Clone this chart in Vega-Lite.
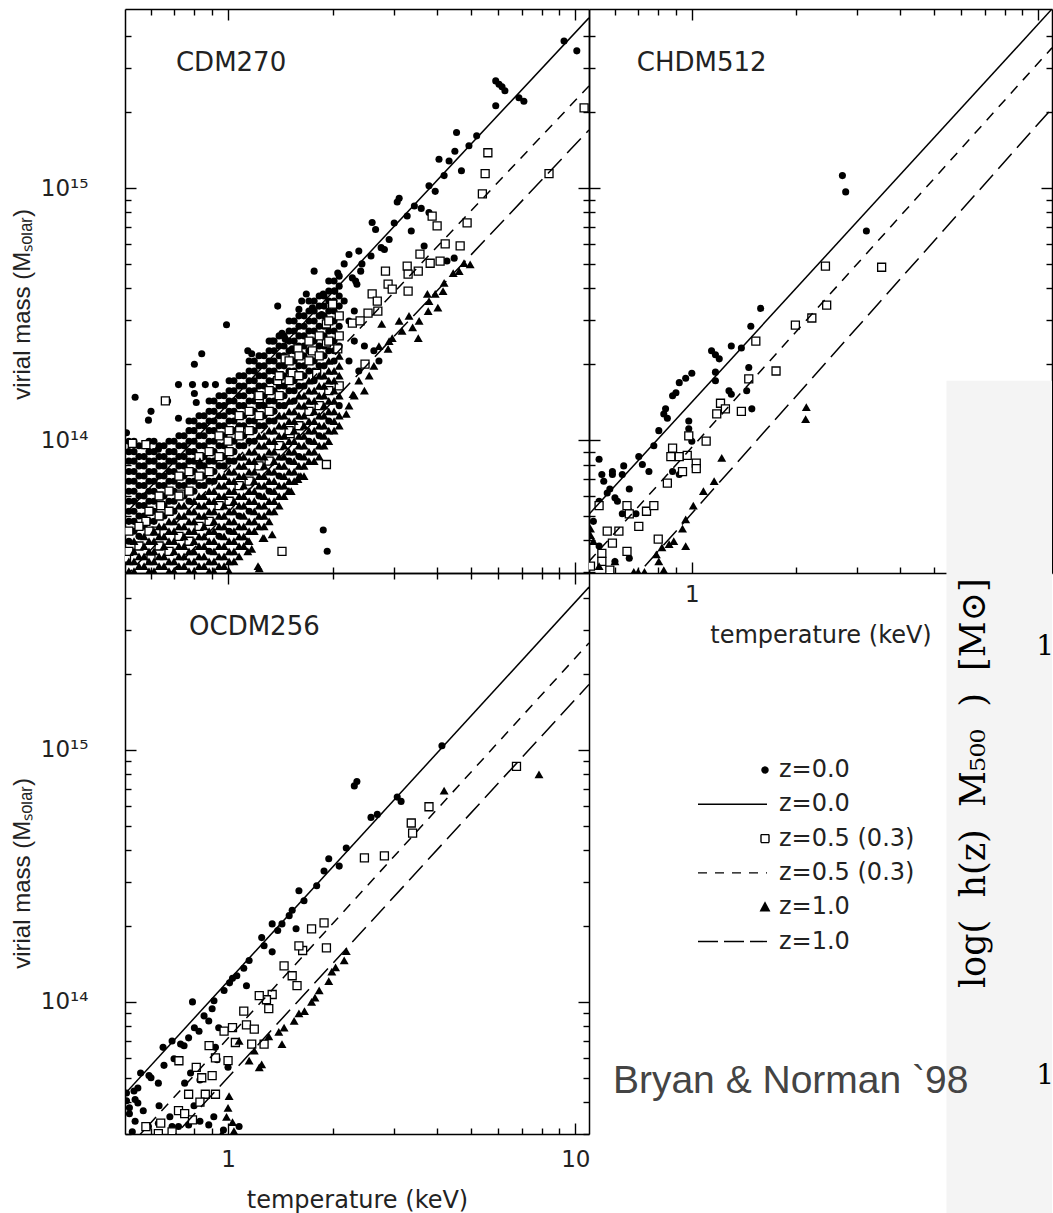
{
"$schema": "https://vega.github.io/schema/vega-lite/v6.json",
"padding": {"left": 10, "top": 8, "right": 0, "bottom": 0},
"autosize": {"type": "pad", "resize": false},
"background": "white",
"config": {
  "font": "DejaVu Sans",
  "view": {"stroke": null},
  "axis": {"domainColor": "black", "domainWidth": 1.5, "tickColor": "black", "tickWidth": 1.4, "labelFontSize": 23, "labelColor": "#222", "labelFont": "DejaVu Sans", "titleFont": "DejaVu Sans", "titleFontSize": 24, "titleColor": "#222", "titleFontWeight": "normal", "grid": false, "labelOverlap": false, "labelFlush": false}
},
"columns": 2,
"spacing": 0,
"bounds": "flush",
"datasets": {
"c0": [{"t":9.28,"m":3.83e15},{"t":10.1,"m":3.5e15},{"t":5.9,"m":2.66e15},{"t":6.03,"m":2.58e15},{"t":6.15,"m":2.52e15},{"t":6.27,"m":2.43e15},{"t":5.9,"m":2.12e15},{"t":6.88,"m":2.28e15},{"t":7.11,"m":2.21e15},{"t":4.55,"m":1.66e15},{"t":5.2,"m":1.61e15},{"t":4.94,"m":1.47e15},{"t":4.05,"m":1.3e15},{"t":4.33,"m":1.28e15},{"t":4.7,"m":1.17e15},{"t":4.5,"m":1.4e15},{"t":3.79,"m":1.02e15},{"t":3.95,"m":9.7e14},{"t":3.11,"m":9.1e14},{"t":3.07,"m":8.8e14},{"t":3.6,"m":8.3e14},{"t":3.79,"m":8.0e14},{"t":3.28,"m":7.74e14},{"t":2.6,"m":7.3e14},{"t":2.66,"m":6.85e14},{"t":2.91,"m":6.25e14},{"t":2.76,"m":5.8e14},{"t":3.37,"m":6.75e14},{"t":2.38,"m":5.62e14},{"t":2.23,"m":5.45e14},{"t":2.43,"m":5.0e14},{"t":2.41,"m":4.68e14},{"t":2.28,"m":4.4e14},{"t":2.35,"m":4.15e14},{"t":2.16,"m":5.0e14},{"t":2.07,"m":4.6e14},{"t":2.33,"m":4.28e14},{"t":2.03,"m":3.9e14},{"t":1.88,"m":3.8e14},{"t":1.77,"m":4.68e14},{"t":1.68,"m":3.8e14},{"t":1.63,"m":3.56e14},{"t":1.75,"m":3.35e14},{"t":1.86,"m":3.15e14},{"t":1.6,"m":3.3e14},{"t":1.39,"m":3.4e14},{"t":0.99,"m":2.87e14},{"t":1.34,"m":2.47e14},{"t":1.46,"m":2.52e14},{"t":1.43,"m":2.65e14},{"t":1.53,"m":2.3e14},{"t":1.14,"m":2.26e14},{"t":1.17,"m":2.2e14},{"t":0.84,"m":2.2e14},{"t":0.8,"m":2.0e14},{"t":0.72,"m":1.66e14},{"t":0.79,"m":1.66e14},{"t":0.86,"m":1.66e14},{"t":0.92,"m":1.66e14},{"t":0.8,"m":1.53e14},{"t":0.81,"m":1.41e14},{"t":0.54,"m":1.48e14},{"t":0.67,"m":1.43e14},{"t":0.6,"m":1.3e14},{"t":0.72,"m":1.22e14},{"t":0.59,"m":1.2e14},{"t":0.51,"m":1.07e14},{"t":0.63,"m":9.2e13},{"t":1.88,"m":4.4e13},{"t":1.93,"m":3.62e13},{"t":2.31,"m":2.47e14},{"t":2.47,"m":2.36e14},{"t":2.63,"m":2.26e14},{"t":2.72,"m":2.06e14},{"t":2.23,"m":2.06e14},{"t":2.38,"m":1.88e14},{"t":2.82,"m":5.7e14},{"t":2.58,"m":5.37e14},{"t":3.44,"m":8.48e14},{"t":4.19,"m":1.12e15},{"t":3.01,"m":7.27e14},{"t":4.48,"m":5.27e14},{"t":4.27,"m":5.13e14},{"t":3.67,"m":5.89e14},{"t":2.16,"m":3.56e14},{"t":2.31,"m":3.25e14},{"t":2.23,"m":2.97e14},
{"t":0.518,"m":9.9e13},{"t":0.518,"m":9.0e13},{"t":0.518,"m":8.25e13},{"t":0.518,"m":7.5e13},{"t":0.518,"m":6.87e13},{"t":0.518,"m":6.27e13},{"t":0.518,"m":5.72e13},{"t":0.518,"m":5.22e13},{"t":0.518,"m":4.76e13},{"t":0.518,"m":3.97e13},
{"t":0.554,"m":9.5e13},{"t":0.554,"m":8.6e13},{"t":0.554,"m":7.9e13},{"t":0.554,"m":7.2e13},{"t":0.554,"m":6.6e13},{"t":0.554,"m":6.0e13},{"t":0.554,"m":5.5e13},{"t":0.554,"m":5.0e13},{"t":0.554,"m":4.15e13},
{"t":0.592,"m":9.9e13},{"t":0.592,"m":9.0e13},{"t":0.592,"m":8.25e13},{"t":0.592,"m":7.5e13},{"t":0.592,"m":6.87e13},{"t":0.592,"m":6.27e13},{"t":0.592,"m":5.72e13},{"t":0.592,"m":4.76e13},
{"t":0.633,"m":9.5e13},{"t":0.633,"m":8.6e13},{"t":0.633,"m":7.9e13},{"t":0.633,"m":7.2e13},{"t":0.633,"m":6.6e13},{"t":0.633,"m":5.5e13},
{"t":0.676,"m":9.9e13},{"t":0.676,"m":9.0e13},{"t":0.676,"m":8.25e13},{"t":0.676,"m":7.5e13},{"t":0.676,"m":6.87e13},{"t":0.676,"m":5.72e13},
{"t":0.722,"m":1.04e14},{"t":0.722,"m":9.5e13},{"t":0.722,"m":8.6e13},{"t":0.722,"m":7.9e13},{"t":0.722,"m":6.6e13},
{"t":0.772,"m":1.19e14},{"t":0.772,"m":1.09e14},{"t":0.772,"m":9.9e13},{"t":0.772,"m":9.0e13},{"t":0.772,"m":8.25e13},{"t":0.772,"m":6.87e13},{"t":0.772,"m":5.72e13},
{"t":0.825,"m":1.25e14},{"t":0.825,"m":1.14e14},{"t":0.825,"m":1.04e14},{"t":0.825,"m":9.5e13},{"t":0.825,"m":7.9e13},{"t":0.825,"m":6.6e13},
{"t":0.882,"m":1.43e14},{"t":0.882,"m":1.3e14},{"t":0.882,"m":1.19e14},{"t":0.882,"m":1.09e14},{"t":0.882,"m":9.9e13},{"t":0.882,"m":8.25e13},{"t":0.882,"m":6.87e13},{"t":0.882,"m":3.62e13},
{"t":0.942,"m":1.5e14},{"t":0.942,"m":1.37e14},{"t":0.942,"m":1.25e14},{"t":0.942,"m":1.14e14},{"t":0.942,"m":9.5e13},{"t":0.942,"m":7.9e13},{"t":0.942,"m":4.15e13},
{"t":1.007,"m":1.72e14},{"t":1.007,"m":1.57e14},{"t":1.007,"m":1.43e14},{"t":1.007,"m":1.3e14},{"t":1.007,"m":1.19e14},{"t":1.007,"m":9.9e13},{"t":1.007,"m":8.25e13},{"t":1.007,"m":4.35e13},
{"t":1.076,"m":1.8e14},{"t":1.076,"m":1.64e14},{"t":1.076,"m":1.5e14},{"t":1.076,"m":1.37e14},{"t":1.076,"m":1.14e14},{"t":1.076,"m":9.5e13},{"t":1.076,"m":5.0e13},
{"t":1.15,"m":2.06e14},{"t":1.15,"m":1.88e14},{"t":1.15,"m":1.72e14},{"t":1.15,"m":1.57e14},{"t":1.15,"m":1.43e14},{"t":1.15,"m":1.19e14},{"t":1.15,"m":9.9e13},{"t":1.15,"m":5.22e13},
{"t":1.228,"m":2.16e14},{"t":1.228,"m":1.97e14},{"t":1.228,"m":1.8e14},{"t":1.228,"m":1.64e14},{"t":1.228,"m":1.37e14},{"t":1.228,"m":1.14e14},{"t":1.228,"m":6.0e13},
{"t":1.313,"m":2.47e14},{"t":1.313,"m":2.26e14},{"t":1.313,"m":2.06e14},{"t":1.313,"m":1.88e14},{"t":1.313,"m":1.72e14},{"t":1.313,"m":1.43e14},{"t":1.313,"m":1.19e14},{"t":1.313,"m":6.27e13},
{"t":1.403,"m":2.59e14},{"t":1.403,"m":2.36e14},{"t":1.403,"m":2.16e14},{"t":1.403,"m":1.97e14},{"t":1.403,"m":1.64e14},{"t":1.403,"m":1.37e14},{"t":1.403,"m":7.2e13},
{"t":1.499,"m":2.97e14},{"t":1.499,"m":2.71e14},{"t":1.499,"m":2.47e14},{"t":1.499,"m":2.26e14},{"t":1.499,"m":1.88e14},{"t":1.499,"m":1.57e14},{"t":1.499,"m":8.25e13},
{"t":1.6,"m":3.11e14},{"t":1.6,"m":2.83e14},{"t":1.6,"m":2.59e14},{"t":1.6,"m":2.36e14},{"t":1.6,"m":1.97e14},{"t":1.6,"m":1.64e14},{"t":1.6,"m":8.6e13},
{"t":1.71,"m":3.56e14},{"t":1.71,"m":3.25e14},{"t":1.71,"m":2.97e14},{"t":1.71,"m":2.71e14},{"t":1.71,"m":2.26e14},{"t":1.71,"m":1.88e14},{"t":1.71,"m":9.9e13},
{"t":1.83,"m":3.73e14},{"t":1.83,"m":3.4e14},{"t":1.83,"m":3.11e14},{"t":1.83,"m":2.83e14},{"t":1.83,"m":2.36e14},{"t":1.83,"m":1.97e14},{"t":1.83,"m":1.04e14},
{"t":1.95,"m":4.28e14},{"t":1.95,"m":3.9e14},{"t":1.95,"m":3.56e14},{"t":1.95,"m":3.25e14},{"t":1.95,"m":2.71e14},{"t":1.95,"m":2.26e14},{"t":1.95,"m":1.19e14},
{"t":2.09,"m":4.47e14},{"t":2.09,"m":4.08e14},{"t":2.09,"m":3.73e14},{"t":2.09,"m":3.4e14},{"t":2.09,"m":2.83e14},{"t":2.09,"m":2.36e14},{"t":2.09,"m":1.37e14},
{"t":0.536,"m":9.9e13},{"t":0.536,"m":9.0e13},{"t":0.536,"m":8.25e13},{"t":0.536,"m":7.5e13},{"t":0.536,"m":6.87e13},{"t":0.536,"m":6.27e13},{"t":0.536,"m":5.72e13},{"t":0.536,"m":5.22e13},{"t":0.536,"m":4.76e13},{"t":0.536,"m":4.35e13},
{"t":0.573,"m":9.5e13},{"t":0.573,"m":8.6e13},{"t":0.573,"m":7.9e13},{"t":0.573,"m":7.2e13},{"t":0.573,"m":6.6e13},{"t":0.573,"m":6.0e13},{"t":0.573,"m":5.5e13},{"t":0.573,"m":5.0e13},{"t":0.573,"m":4.55e13},
{"t":0.612,"m":9.9e13},{"t":0.612,"m":9.0e13},{"t":0.612,"m":8.25e13},{"t":0.612,"m":7.5e13},{"t":0.612,"m":6.87e13},{"t":0.612,"m":6.27e13},{"t":0.612,"m":5.72e13},{"t":0.612,"m":5.22e13},{"t":0.612,"m":4.76e13},
{"t":0.654,"m":9.5e13},{"t":0.654,"m":8.6e13},{"t":0.654,"m":7.9e13},{"t":0.654,"m":7.2e13},{"t":0.654,"m":6.6e13},{"t":0.654,"m":6.0e13},{"t":0.654,"m":5.5e13},{"t":0.654,"m":5.0e13},
{"t":0.699,"m":9.9e13},{"t":0.699,"m":9.0e13},{"t":0.699,"m":8.25e13},{"t":0.699,"m":7.5e13},{"t":0.699,"m":6.87e13},{"t":0.699,"m":6.27e13},{"t":0.699,"m":5.72e13},{"t":0.699,"m":5.22e13},
{"t":0.747,"m":1.04e14},{"t":0.747,"m":9.5e13},{"t":0.747,"m":8.6e13},{"t":0.747,"m":7.9e13},{"t":0.747,"m":7.2e13},{"t":0.747,"m":6.6e13},{"t":0.747,"m":6.0e13},
{"t":0.798,"m":1.19e14},{"t":0.798,"m":1.09e14},{"t":0.798,"m":9.9e13},{"t":0.798,"m":9.0e13},{"t":0.798,"m":8.25e13},{"t":0.798,"m":7.5e13},{"t":0.798,"m":6.87e13},{"t":0.798,"m":6.27e13},
{"t":0.853,"m":1.25e14},{"t":0.853,"m":1.14e14},{"t":0.853,"m":1.04e14},{"t":0.853,"m":9.5e13},{"t":0.853,"m":8.6e13},{"t":0.853,"m":7.9e13},{"t":0.853,"m":7.2e13},{"t":0.853,"m":6.6e13},
{"t":0.911,"m":1.43e14},{"t":0.911,"m":1.3e14},{"t":0.911,"m":1.19e14},{"t":0.911,"m":1.09e14},{"t":0.911,"m":9.9e13},{"t":0.911,"m":9.0e13},{"t":0.911,"m":8.25e13},{"t":0.911,"m":7.5e13},{"t":0.911,"m":6.87e13},
{"t":0.974,"m":1.5e14},{"t":0.974,"m":1.37e14},{"t":0.974,"m":1.25e14},{"t":0.974,"m":1.14e14},{"t":0.974,"m":1.04e14},{"t":0.974,"m":9.5e13},{"t":0.974,"m":8.6e13},{"t":0.974,"m":7.9e13},
{"t":1.04,"m":1.72e14},{"t":1.04,"m":1.57e14},{"t":1.04,"m":1.43e14},{"t":1.04,"m":1.3e14},{"t":1.04,"m":1.19e14},{"t":1.04,"m":1.09e14},{"t":1.04,"m":9.9e13},{"t":1.04,"m":9.0e13},{"t":1.04,"m":8.25e13},
{"t":1.11,"m":1.8e14},{"t":1.11,"m":1.64e14},{"t":1.11,"m":1.5e14},{"t":1.11,"m":1.37e14},{"t":1.11,"m":1.25e14},{"t":1.11,"m":1.14e14},{"t":1.11,"m":1.04e14},{"t":1.11,"m":9.5e13},
{"t":1.19,"m":2.06e14},{"t":1.19,"m":1.88e14},{"t":1.19,"m":1.72e14},{"t":1.19,"m":1.57e14},{"t":1.19,"m":1.43e14},{"t":1.19,"m":1.3e14},{"t":1.19,"m":1.19e14},{"t":1.19,"m":1.09e14},{"t":1.19,"m":9.9e13},
{"t":1.27,"m":2.16e14},{"t":1.27,"m":1.97e14},{"t":1.27,"m":1.8e14},{"t":1.27,"m":1.64e14},{"t":1.27,"m":1.5e14},{"t":1.27,"m":1.37e14},{"t":1.27,"m":1.25e14},{"t":1.27,"m":1.14e14},
{"t":1.357,"m":2.47e14},{"t":1.357,"m":2.26e14},{"t":1.357,"m":2.06e14},{"t":1.357,"m":1.88e14},{"t":1.357,"m":1.72e14},{"t":1.357,"m":1.57e14},{"t":1.357,"m":1.43e14},{"t":1.357,"m":1.3e14},{"t":1.357,"m":1.19e14},
{"t":1.45,"m":2.59e14},{"t":1.45,"m":2.36e14},{"t":1.45,"m":2.16e14},{"t":1.45,"m":1.97e14},{"t":1.45,"m":1.8e14},{"t":1.45,"m":1.64e14},{"t":1.45,"m":1.5e14},{"t":1.45,"m":1.37e14},
{"t":1.55,"m":2.97e14},{"t":1.55,"m":2.71e14},{"t":1.55,"m":2.47e14},{"t":1.55,"m":2.26e14},{"t":1.55,"m":2.06e14},{"t":1.55,"m":1.88e14},{"t":1.55,"m":1.72e14},{"t":1.55,"m":1.57e14},{"t":1.55,"m":1.43e14},
{"t":1.655,"m":3.11e14},{"t":1.655,"m":2.83e14},{"t":1.655,"m":2.59e14},{"t":1.655,"m":2.36e14},{"t":1.655,"m":2.16e14},{"t":1.655,"m":1.97e14},{"t":1.655,"m":1.8e14},{"t":1.655,"m":1.64e14},
{"t":1.77,"m":3.56e14},{"t":1.77,"m":3.25e14},{"t":1.77,"m":2.97e14},{"t":1.77,"m":2.71e14},{"t":1.77,"m":2.47e14},{"t":1.77,"m":2.26e14},{"t":1.77,"m":2.06e14},{"t":1.77,"m":1.88e14},{"t":1.77,"m":1.72e14},
{"t":1.89,"m":3.73e14},{"t":1.89,"m":3.4e14},{"t":1.89,"m":3.11e14},{"t":1.89,"m":2.83e14},{"t":1.89,"m":2.59e14},{"t":1.89,"m":2.36e14},{"t":1.89,"m":2.16e14},{"t":1.89,"m":1.97e14},
{"t":2.02,"m":4.28e14},{"t":2.02,"m":3.9e14},{"t":2.02,"m":3.56e14},{"t":2.02,"m":3.25e14},{"t":2.02,"m":2.97e14},{"t":2.02,"m":2.71e14},{"t":2.02,"m":2.47e14},{"t":2.02,"m":2.26e14},{"t":2.02,"m":2.06e14}],
"c5": [{"t":5.6,"m":1.38e15},{"t":5.5,"m":1.14e15},{"t":5.4,"m":9.47e14},{"t":4.88,"m":7.27e14},{"t":3.87,"m":7.74e14},{"t":4.0,"m":7.07e14},{"t":4.22,"m":6.0e14},{"t":3.82,"m":5.03e14},{"t":4.08,"m":5.13e14},{"t":4.66,"m":5.89e14},{"t":3.57,"m":5.47e14},{"t":3.53,"m":4.68e14},{"t":3.28,"m":4.9e14},{"t":3.3,"m":4.55e14},{"t":3.3,"m":3.9e14},{"t":2.84,"m":4.68e14},{"t":2.89,"m":4.16e14},{"t":2.97,"m":3.97e14},{"t":2.6,"m":3.8e14},{"t":2.69,"m":3.56e14},{"t":2.7,"m":3.25e14},{"t":2.53,"m":3.19e14},{"t":2.28,"m":2.91e14},{"t":2.4,"m":2.97e14},{"t":2.0,"m":3.46e14},{"t":1.92,"m":2.89e14},{"t":1.92,"m":2.43e14},{"t":1.75,"m":2.26e14},{"t":1.59,"m":2.3e14},{"t":2.07,"m":2.3e14},{"t":2.48,"m":2.0e14},{"t":1.46,"m":2.1e14},{"t":1.53,"m":1.84e14},{"t":1.39,"m":1.72e14},{"t":1.8,"m":1.84e14},{"t":1.22,"m":1.5e14},{"t":1.08,"m":1.09e14},{"t":1.0,"m":9.9e13},{"t":1.51,"m":1.06e14},{"t":1.92,"m":8.0e13},{"t":1.43,"m":3.62e13},{"t":0.53,"m":9.7e13},{"t":0.58,"m":9.6e13},{"t":0.66,"m":1.43e14},{"t":1.23,"m":1.46e14},{"t":0.64,"m":5.5e13},{"t":0.73,"m":6.1e13},{"t":0.58,"m":4.76e13},{"t":0.62,"m":4.35e13},{"t":0.51,"m":3.4e13},{"t":0.6,"m":3.38e13},{"t":10.6,"m":2.08e15},{"t":8.4,"m":1.14e15},
{"t":0.518,"m":4.35e13},{"t":0.518,"m":3.62e13},{"t":0.554,"m":4.55e13},{"t":0.554,"m":3.8e13},{"t":0.592,"m":5.22e13},{"t":0.592,"m":4.35e13},{"t":0.633,"m":6.0e13},{"t":0.633,"m":5.0e13},{"t":0.633,"m":3.8e13},{"t":0.676,"m":6.27e13},{"t":0.676,"m":5.22e13},{"t":0.676,"m":3.62e13},{"t":0.722,"m":7.2e13},{"t":0.722,"m":6.0e13},{"t":0.722,"m":4.15e13},{"t":0.772,"m":7.5e13},{"t":0.772,"m":6.27e13},{"t":0.772,"m":3.97e13},{"t":0.825,"m":8.6e13},{"t":0.825,"m":7.2e13},{"t":0.825,"m":4.55e13},{"t":0.882,"m":9.0e13},{"t":0.882,"m":7.5e13},{"t":0.882,"m":4.76e13},{"t":0.942,"m":1.04e14},{"t":0.942,"m":8.6e13},{"t":0.942,"m":5.5e13},{"t":1.007,"m":1.09e14},{"t":1.007,"m":9.0e13},{"t":1.007,"m":5.72e13},{"t":1.076,"m":1.25e14},{"t":1.076,"m":1.04e14},{"t":1.076,"m":6.6e13},{"t":1.15,"m":1.3e14},{"t":1.15,"m":1.09e14},{"t":1.15,"m":6.87e13},{"t":1.228,"m":1.5e14},{"t":1.228,"m":1.25e14},{"t":1.228,"m":7.9e13},{"t":1.313,"m":1.57e14},{"t":1.313,"m":1.3e14},{"t":1.313,"m":8.25e13},{"t":1.403,"m":1.8e14},{"t":1.403,"m":1.5e14},{"t":1.403,"m":9.5e13},{"t":1.499,"m":2.06e14},{"t":1.499,"m":1.72e14},{"t":1.499,"m":1.09e14},{"t":1.6,"m":2.16e14},{"t":1.6,"m":1.8e14},{"t":1.6,"m":1.14e14},{"t":1.71,"m":2.47e14},{"t":1.71,"m":2.06e14},{"t":1.71,"m":1.3e14},{"t":1.83,"m":2.59e14},{"t":1.83,"m":2.16e14},{"t":1.83,"m":1.37e14},{"t":1.95,"m":2.97e14},{"t":1.95,"m":2.47e14},{"t":1.95,"m":1.57e14},{"t":2.09,"m":3.11e14},{"t":2.09,"m":2.59e14},{"t":2.09,"m":1.64e14}],
"c1": [{"t":4.98,"m":4.98e14},{"t":4.45,"m":4.6e14},{"t":4.16,"m":3.9e14},{"t":3.95,"m":3.8e14},{"t":3.75,"m":3.8e14},{"t":3.77,"m":3.25e14},{"t":4.02,"m":3.35e14},{"t":3.53,"m":2.54e14},{"t":3.4,"m":2.8e14},{"t":3.17,"m":2.71e14},{"t":2.97,"m":2.54e14},{"t":2.77,"m":2.89e14},{"t":2.89,"m":2.3e14},{"t":2.29,"m":1.52e14},{"t":2.19,"m":1.27e14},{"t":1.59,"m":7.0e13},{"t":1.49,"m":6.27e13},{"t":1.34,"m":4.23e13},{"t":1.26,"m":4.08e13},{"t":1.14,"m":3.97e13},{"t":1.14,"m":3.62e13},{"t":1.22,"m":3.16e13},{"t":0.83,"m":8.25e13},{"t":1.62,"m":7.2e13},{"t":1.52,"m":6.27e13},{"t":1.27,"m":4.08e13},{"t":1.17,"m":3.7e13},{"t":1.23,"m":3.1e13},{"t":2.38,"m":1.72e14},{"t":2.55,"m":1.8e14},{"t":2.31,"m":1.5e14},{"t":2.47,"m":1.57e14},{"t":2.23,"m":1.37e14},{"t":2.72,"m":2.36e14},{"t":3.11,"m":2.97e14},{"t":3.32,"m":3.11e14},{"t":3.55,"m":2.97e14},{"t":3.79,"m":3.56e14},{"t":4.19,"m":4.2e14},{"t":4.63,"m":4.68e14},{"t":4.78,"m":5.03e14},{"t":2.63,"m":1.97e14},{"t":2.91,"m":2.47e14},
{"t":0.518,"m":3.3e13},{"t":0.518,"m":3.02e13},{"t":0.554,"m":3.46e13},{"t":0.554,"m":3.16e13},
{"t":0.592,"m":3.97e13},{"t":0.592,"m":3.62e13},{"t":0.592,"m":3.3e13},{"t":0.592,"m":3.02e13},
{"t":0.633,"m":4.55e13},{"t":0.633,"m":4.15e13},{"t":0.633,"m":3.46e13},{"t":0.633,"m":3.16e13},
{"t":0.676,"m":4.76e13},{"t":0.676,"m":4.35e13},{"t":0.676,"m":3.97e13},{"t":0.676,"m":3.3e13},{"t":0.676,"m":3.02e13},
{"t":0.722,"m":5.5e13},{"t":0.722,"m":5.0e13},{"t":0.722,"m":4.55e13},{"t":0.722,"m":3.8e13},{"t":0.722,"m":3.46e13},{"t":0.722,"m":3.16e13},
{"t":0.772,"m":5.22e13},{"t":0.772,"m":4.76e13},{"t":0.772,"m":4.35e13},{"t":0.772,"m":3.62e13},{"t":0.772,"m":3.3e13},{"t":0.772,"m":3.02e13},
{"t":0.825,"m":6.0e13},{"t":0.825,"m":5.5e13},{"t":0.825,"m":5.0e13},{"t":0.825,"m":4.15e13},{"t":0.825,"m":3.8e13},{"t":0.825,"m":3.46e13},{"t":0.825,"m":3.16e13},
{"t":0.882,"m":6.27e13},{"t":0.882,"m":5.72e13},{"t":0.882,"m":5.22e13},{"t":0.882,"m":4.35e13},{"t":0.882,"m":3.97e13},{"t":0.882,"m":3.3e13},{"t":0.882,"m":3.02e13},
{"t":0.942,"m":7.2e13},{"t":0.942,"m":6.6e13},{"t":0.942,"m":6.0e13},{"t":0.942,"m":5.0e13},{"t":0.942,"m":4.55e13},{"t":0.942,"m":3.8e13},{"t":0.942,"m":3.46e13},{"t":0.942,"m":3.16e13},
{"t":1.007,"m":7.5e13},{"t":1.007,"m":6.87e13},{"t":1.007,"m":6.27e13},{"t":1.007,"m":5.22e13},{"t":1.007,"m":4.76e13},{"t":1.007,"m":3.97e13},{"t":1.007,"m":3.62e13},{"t":1.007,"m":3.3e13},{"t":1.007,"m":3.02e13},
{"t":1.076,"m":8.6e13},{"t":1.076,"m":7.9e13},{"t":1.076,"m":7.2e13},{"t":1.076,"m":6.0e13},{"t":1.076,"m":5.5e13},{"t":1.076,"m":4.55e13},{"t":1.076,"m":4.15e13},{"t":1.076,"m":3.8e13},{"t":1.076,"m":3.46e13},
{"t":1.15,"m":9.0e13},{"t":1.15,"m":8.25e13},{"t":1.15,"m":7.5e13},{"t":1.15,"m":6.27e13},{"t":1.15,"m":5.72e13},{"t":1.15,"m":4.76e13},{"t":1.15,"m":4.35e13},{"t":1.15,"m":3.97e13},
{"t":1.228,"m":1.04e14},{"t":1.228,"m":9.5e13},{"t":1.228,"m":8.6e13},{"t":1.228,"m":7.2e13},{"t":1.228,"m":6.6e13},{"t":1.228,"m":5.5e13},{"t":1.228,"m":5.0e13},{"t":1.228,"m":4.55e13},
{"t":1.313,"m":1.09e14},{"t":1.313,"m":9.9e13},{"t":1.313,"m":9.0e13},{"t":1.313,"m":7.5e13},{"t":1.313,"m":6.87e13},{"t":1.313,"m":5.72e13},{"t":1.313,"m":5.22e13},{"t":1.313,"m":4.76e13},
{"t":1.403,"m":1.25e14},{"t":1.403,"m":1.14e14},{"t":1.403,"m":1.04e14},{"t":1.403,"m":8.6e13},{"t":1.403,"m":7.9e13},{"t":1.403,"m":6.6e13},{"t":1.403,"m":6.0e13},{"t":1.403,"m":5.5e13},
{"t":1.499,"m":1.43e14},{"t":1.499,"m":1.3e14},{"t":1.499,"m":1.19e14},{"t":1.499,"m":9.9e13},{"t":1.499,"m":9.0e13},{"t":1.499,"m":7.5e13},{"t":1.499,"m":6.87e13},{"t":1.499,"m":6.27e13},
{"t":1.6,"m":1.5e14},{"t":1.6,"m":1.37e14},{"t":1.6,"m":1.25e14},{"t":1.6,"m":1.04e14},{"t":1.6,"m":9.5e13},{"t":1.6,"m":7.9e13},{"t":1.6,"m":7.2e13},
{"t":1.71,"m":1.72e14},{"t":1.71,"m":1.57e14},{"t":1.71,"m":1.43e14},{"t":1.71,"m":1.19e14},{"t":1.71,"m":1.09e14},{"t":1.71,"m":9.0e13},{"t":1.71,"m":8.25e13},
{"t":1.83,"m":1.8e14},{"t":1.83,"m":1.64e14},{"t":1.83,"m":1.5e14},{"t":1.83,"m":1.25e14},{"t":1.83,"m":1.14e14},{"t":1.83,"m":9.5e13},{"t":1.83,"m":8.6e13},
{"t":1.95,"m":2.06e14},{"t":1.95,"m":1.88e14},{"t":1.95,"m":1.72e14},{"t":1.95,"m":1.43e14},{"t":1.95,"m":1.3e14},{"t":1.95,"m":1.09e14},{"t":1.95,"m":9.9e13},
{"t":2.09,"m":2.16e14},{"t":2.09,"m":1.97e14},{"t":2.09,"m":1.8e14},{"t":2.09,"m":1.5e14},{"t":2.09,"m":1.25e14},{"t":2.09,"m":1.14e14},
{"t":0.536,"m":3.97e13},{"t":0.536,"m":3.62e13},{"t":0.536,"m":3.3e13},{"t":0.536,"m":3.02e13},
{"t":0.573,"m":4.15e13},{"t":0.573,"m":3.8e13},{"t":0.573,"m":3.46e13},{"t":0.573,"m":3.16e13},
{"t":0.612,"m":4.35e13},{"t":0.612,"m":3.97e13},{"t":0.612,"m":3.62e13},{"t":0.612,"m":3.3e13},{"t":0.612,"m":3.02e13},
{"t":0.654,"m":4.55e13},{"t":0.654,"m":4.15e13},{"t":0.654,"m":3.8e13},{"t":0.654,"m":3.46e13},{"t":0.654,"m":3.16e13},
{"t":0.699,"m":4.76e13},{"t":0.699,"m":4.35e13},{"t":0.699,"m":3.97e13},{"t":0.699,"m":3.62e13},{"t":0.699,"m":3.3e13},{"t":0.699,"m":3.02e13},
{"t":0.747,"m":5.5e13},{"t":0.747,"m":5.0e13},{"t":0.747,"m":4.55e13},{"t":0.747,"m":4.15e13},{"t":0.747,"m":3.8e13},{"t":0.747,"m":3.46e13},{"t":0.747,"m":3.16e13},
{"t":0.798,"m":5.72e13},{"t":0.798,"m":5.22e13},{"t":0.798,"m":4.76e13},{"t":0.798,"m":4.35e13},{"t":0.798,"m":3.97e13},{"t":0.798,"m":3.62e13},{"t":0.798,"m":3.3e13},{"t":0.798,"m":3.02e13},
{"t":0.853,"m":6.0e13},{"t":0.853,"m":5.5e13},{"t":0.853,"m":5.0e13},{"t":0.853,"m":4.55e13},{"t":0.853,"m":4.15e13},{"t":0.853,"m":3.8e13},{"t":0.853,"m":3.46e13},{"t":0.853,"m":3.16e13},
{"t":0.911,"m":6.27e13},{"t":0.911,"m":5.72e13},{"t":0.911,"m":5.22e13},{"t":0.911,"m":4.76e13},{"t":0.911,"m":4.35e13},{"t":0.911,"m":3.97e13},{"t":0.911,"m":3.62e13},{"t":0.911,"m":3.3e13},{"t":0.911,"m":3.02e13},
{"t":0.974,"m":7.2e13},{"t":0.974,"m":6.6e13},{"t":0.974,"m":6.0e13},{"t":0.974,"m":5.5e13},{"t":0.974,"m":5.0e13},{"t":0.974,"m":4.55e13},{"t":0.974,"m":4.15e13},{"t":0.974,"m":3.8e13},{"t":0.974,"m":3.46e13},{"t":0.974,"m":3.16e13},
{"t":1.04,"m":7.5e13},{"t":1.04,"m":6.87e13},{"t":1.04,"m":6.27e13},{"t":1.04,"m":5.72e13},{"t":1.04,"m":5.22e13},{"t":1.04,"m":4.76e13},{"t":1.04,"m":4.35e13},{"t":1.04,"m":3.97e13},{"t":1.04,"m":3.62e13},{"t":1.04,"m":3.3e13},
{"t":1.11,"m":8.6e13},{"t":1.11,"m":7.9e13},{"t":1.11,"m":7.2e13},{"t":1.11,"m":6.6e13},{"t":1.11,"m":6.0e13},{"t":1.11,"m":5.5e13},{"t":1.11,"m":5.0e13},{"t":1.11,"m":4.55e13},{"t":1.11,"m":4.15e13},{"t":1.11,"m":3.8e13},
{"t":1.19,"m":9.0e13},{"t":1.19,"m":8.25e13},{"t":1.19,"m":7.5e13},{"t":1.19,"m":6.87e13},{"t":1.19,"m":6.27e13},{"t":1.19,"m":5.72e13},{"t":1.19,"m":5.22e13},{"t":1.19,"m":4.76e13},{"t":1.19,"m":4.35e13},
{"t":1.27,"m":1.04e14},{"t":1.27,"m":9.5e13},{"t":1.27,"m":8.6e13},{"t":1.27,"m":7.9e13},{"t":1.27,"m":7.2e13},{"t":1.27,"m":6.6e13},{"t":1.27,"m":6.0e13},{"t":1.27,"m":5.5e13},{"t":1.27,"m":5.0e13},{"t":1.27,"m":4.55e13},
{"t":1.357,"m":1.09e14},{"t":1.357,"m":9.9e13},{"t":1.357,"m":9.0e13},{"t":1.357,"m":8.25e13},{"t":1.357,"m":7.5e13},{"t":1.357,"m":6.87e13},{"t":1.357,"m":6.27e13},{"t":1.357,"m":5.72e13},{"t":1.357,"m":5.22e13},
{"t":1.45,"m":1.25e14},{"t":1.45,"m":1.14e14},{"t":1.45,"m":1.04e14},{"t":1.45,"m":9.5e13},{"t":1.45,"m":8.6e13},{"t":1.45,"m":7.9e13},{"t":1.45,"m":7.2e13},{"t":1.45,"m":6.6e13},{"t":1.45,"m":6.0e13},
{"t":1.55,"m":1.3e14},{"t":1.55,"m":1.19e14},{"t":1.55,"m":1.09e14},{"t":1.55,"m":9.9e13},{"t":1.55,"m":9.0e13},{"t":1.55,"m":8.25e13},{"t":1.55,"m":7.5e13},{"t":1.55,"m":6.87e13},
{"t":1.655,"m":1.5e14},{"t":1.655,"m":1.37e14},{"t":1.655,"m":1.25e14},{"t":1.655,"m":1.14e14},{"t":1.655,"m":1.04e14},{"t":1.655,"m":9.5e13},{"t":1.655,"m":8.6e13},{"t":1.655,"m":7.9e13},{"t":1.655,"m":7.2e13},
{"t":1.77,"m":1.57e14},{"t":1.77,"m":1.43e14},{"t":1.77,"m":1.3e14},{"t":1.77,"m":1.19e14},{"t":1.77,"m":1.09e14},{"t":1.77,"m":9.9e13},{"t":1.77,"m":9.0e13},{"t":1.77,"m":8.25e13},
{"t":1.89,"m":1.8e14},{"t":1.89,"m":1.64e14},{"t":1.89,"m":1.5e14},{"t":1.89,"m":1.37e14},{"t":1.89,"m":1.25e14},{"t":1.89,"m":1.14e14},{"t":1.89,"m":1.04e14},{"t":1.89,"m":9.5e13},
{"t":2.02,"m":1.88e14},{"t":2.02,"m":1.72e14},{"t":2.02,"m":1.57e14},{"t":2.02,"m":1.43e14},{"t":2.02,"m":1.3e14},{"t":2.02,"m":1.19e14},{"t":2.02,"m":1.09e14}],
"h0": [{"t":2.72,"m":1.12e15},{"t":2.78,"m":9.65e14},{"t":3.19,"m":6.75e14},{"t":1.58,"m":3.33e14},{"t":1.48,"m":2.83e14},{"t":1.39,"m":2.32e14},{"t":1.3,"m":2.36e14},{"t":1.14,"m":2.26e14},{"t":1.17,"m":2.18e14},{"t":1.2,"m":2.1e14},{"t":1.0,"m":1.84e14},{"t":0.96,"m":1.76e14},{"t":0.92,"m":1.69e14},{"t":0.9,"m":1.54e14},{"t":0.88,"m":1.5e14},{"t":0.84,"m":1.33e14},{"t":0.83,"m":1.27e14},{"t":0.85,"m":1.22e14},{"t":1.17,"m":1.86e14},{"t":1.17,"m":1.72e14},{"t":1.46,"m":1.94e14},{"t":1.44,"m":1.57e14},{"t":1.49,"m":1.33e14},{"t":1.28,"m":1.57e14},{"t":1.3,"m":1.52e14},{"t":0.98,"m":1.19e14},{"t":0.98,"m":1.11e14},{"t":1.0,"m":9.9e13},{"t":0.54,"m":8.4e13},{"t":0.59,"m":7.3e13},{"t":0.63,"m":7.3e13},{"t":0.66,"m":6.4e13},{"t":0.61,"m":5.72e13},{"t":0.57,"m":6.17e13},{"t":0.72,"m":8.0e13},{"t":0.88,"m":7.5e13},{"t":0.92,"m":7.3e13},{"t":0.66,"m":3.4e13},{"t":0.55,"m":7.3e13},{"t":0.59,"m":7.5e13},{"t":0.58,"m":6.4e13},{"t":0.54,"m":5.72e13},{"t":0.6,"m":5.9e13},{"t":0.66,"m":5.22e13},{"t":0.63,"m":5.1e13},{"t":0.69,"m":5.1e13},{"t":0.6,"m":3.3e13},{"t":0.557,"m":6.87e13},{"t":0.636,"m":7.9e13},{"t":0.703,"m":8.6e13},{"t":0.777,"m":9.5e13},{"t":0.803,"m":1.09e14},{"t":0.752,"m":7.5e13},{"t":0.52,"m":4.76e13},{"t":0.54,"m":3.8e13}],
"h5": [{"t":2.43,"m":4.9e14},{"t":3.53,"m":4.85e14},{"t":2.45,"m":3.43e14},{"t":2.22,"m":3.05e14},{"t":1.99,"m":2.86e14},{"t":1.53,"m":2.47e14},{"t":1.75,"m":1.88e14},{"t":1.46,"m":1.75e14},{"t":1.21,"m":1.4e14},{"t":1.25,"m":1.33e14},{"t":1.18,"m":1.27e14},{"t":1.39,"m":1.3e14},{"t":0.98,"m":1.04e14},{"t":1.1,"m":9.9e13},{"t":0.88,"m":9.3e13},{"t":0.87,"m":8.6e13},{"t":0.92,"m":8.6e13},{"t":0.97,"m":8.7e13},{"t":1.03,"m":8.1e13},{"t":1.03,"m":7.7e13},{"t":0.94,"m":7.5e13},{"t":0.85,"m":6.75e13},{"t":0.74,"m":5.22e13},{"t":0.65,"m":5.5e13},{"t":0.66,"m":5.1e13},{"t":0.57,"m":4.35e13},{"t":0.59,"m":3.9e13},{"t":0.55,"m":3.55e13},{"t":0.65,"m":3.62e13},{"t":0.51,"m":3.16e13},{"t":0.58,"m":3.05e13},{"t":0.8,"m":4.05e13},{"t":0.55,"m":3.3e13},{"t":0.616,"m":4.35e13},{"t":0.703,"m":4.55e13},{"t":0.777,"m":5.5e13},{"t":0.54,"m":5.5e13}],
"h1": [{"t":2.14,"m":1.35e14},{"t":2.13,"m":1.21e14},{"t":1.22,"m":8.5e13},{"t":1.08,"m":6.27e13},{"t":0.96,"m":4.85e13},{"t":0.94,"m":4.45e13},{"t":0.96,"m":3.8e13},{"t":0.82,"m":3.75e13},{"t":0.79,"m":3.52e13},{"t":0.86,"m":3.87e13},{"t":0.83,"m":3.05e13},{"t":0.68,"m":3.0e13},{"t":0.7,"m":3.0e13},{"t":0.73,"m":3.0e13},{"t":0.51,"m":4.45e13},{"t":0.51,"m":4.2e13},{"t":0.52,"m":3.97e13},{"t":0.54,"m":3.16e13},{"t":0.6,"m":3.3e13},{"t":0.803,"m":3.3e13},{"t":0.887,"m":3.97e13},{"t":1.01,"m":5.5e13},{"t":1.16,"m":6.87e13}],
"o0": [{"t":4.13,"m":1.04e15},{"t":2.35,"m":7.5e14},{"t":2.31,"m":7.2e14},{"t":3.07,"m":6.5e14},{"t":3.15,"m":6.25e14},{"t":2.58,"m":5.4e14},{"t":2.69,"m":5.55e14},{"t":2.19,"m":4.08e14},{"t":2.09,"m":3.46e14},{"t":1.95,"m":3.7e14},{"t":1.6,"m":2.76e14},{"t":1.53,"m":2.31e14},{"t":1.43,"m":2.04e14},{"t":1.34,"m":2.04e14},{"t":1.25,"m":1.8e14},{"t":1.34,"m":1.58e14},{"t":1.57,"m":1.95e14},{"t":1.11,"m":1.36e14},{"t":1.03,"m":1.24e14},{"t":1.01,"m":1.19e14},{"t":1.13,"m":1.16e14},{"t":0.79,"m":1.0e14},{"t":0.9,"m":9.4e13},{"t":0.88,"m":8.4e13},{"t":0.8,"m":7.9e13},{"t":0.77,"m":7.2e13},{"t":0.69,"m":7.0e13},{"t":0.65,"m":6.6e13},{"t":0.73,"m":6.8e13},{"t":0.56,"m":5.22e13},{"t":0.6,"m":5.0e13},{"t":0.63,"m":4.76e13},{"t":0.55,"m":3.97e13},{"t":0.52,"m":3.6e13},{"t":0.94,"m":7.9e13},{"t":0.92,"m":6.6e13},{"t":0.93,"m":5.9e13},{"t":1.0,"m":5.5e13},{"t":0.78,"m":5.22e13},{"t":0.83,"m":4.9e13},{"t":0.75,"m":4.76e13},{"t":0.52,"m":3.8e13},{"t":0.53,"m":3.05e13},{"t":0.63,"m":3.3e13},{"t":0.69,"m":3.2e13},{"t":0.77,"m":3.25e13},{"t":0.88,"m":3.25e13},{"t":0.54,"m":3.36e13},{"t":0.57,"m":3.7e13},{"t":0.59,"m":3.2e13},{"t":0.68,"m":3.5e13},{"t":0.72,"m":3.2e13},{"t":0.83,"m":3.36e13},{"t":0.91,"m":3.5e13},{"t":0.97,"m":3.1e13},{"t":0.51,"m":4.35e13},{"t":0.54,"m":4.1e13},{"t":0.55,"m":4.55e13},
{"t":0.592,"m":5.1e13},{"t":0.654,"m":5.6e13},{"t":0.699,"m":5.95e13},{"t":0.747,"m":6.7e13},{"t":0.825,"m":7.65e13},{"t":0.853,"m":8.8e13},{"t":0.911,"m":1.01e14},{"t":0.974,"m":1.11e14},{"t":1.06,"m":1.27e14},{"t":1.15,"m":1.46e14},{"t":1.27,"m":1.67e14},{"t":1.39,"m":1.92e14},{"t":1.5,"m":2.2e14},{"t":1.655,"m":2.52e14},{"t":1.8,"m":2.89e14},{"t":0.536,"m":4.43e13},{"t":0.51,"m":4.05e13},{"t":0.633,"m":3.87e13},{"t":0.798,"m":3.87e13},{"t":1.076,"m":3.2e13},{"t":1.89,"m":3.31e14}],
"o5": [{"t":1.89,"m":2.06e14},{"t":1.74,"m":1.95e14},{"t":1.92,"m":1.64e14},{"t":1.64,"m":1.6e14},{"t":1.53,"m":1.27e14},{"t":1.58,"m":1.16e14},{"t":1.34,"m":1.07e14},{"t":1.29,"m":1.02e14},{"t":1.31,"m":9.4e13},{"t":1.03,"m":7.9e13},{"t":1.13,"m":8.1e13},{"t":1.19,"m":7.8e13},{"t":1.05,"m":6.9e13},{"t":1.17,"m":6.8e13},{"t":1.27,"m":6.8e13},{"t":0.92,"m":6.0e13},{"t":1.0,"m":5.85e13},{"t":0.81,"m":5.5e13},{"t":0.84,"m":5.0e13},{"t":0.9,"m":5.1e13},{"t":0.77,"m":4.3e13},{"t":0.86,"m":4.3e13},{"t":0.83,"m":4.0e13},{"t":0.92,"m":4.3e13},{"t":0.72,"m":3.7e13},{"t":0.75,"m":3.6e13},{"t":0.79,"m":3.4e13},{"t":0.64,"m":3.3e13},{"t":0.69,"m":3.05e13},{"t":0.63,"m":3.0e13},{"t":0.58,"m":3.2e13},{"t":6.77,"m":8.6e14},{"t":3.79,"m":5.95e14},{"t":3.37,"m":5.13e14},{"t":3.4,"m":4.68e14},{"t":2.82,"m":3.8e14},{"t":2.47,"m":3.73e14},{"t":0.722,"m":5.84e13},{"t":0.882,"m":6.7e13},{"t":0.974,"m":7.65e13},{"t":1.11,"m":9.2e13},{"t":1.23,"m":1.06e14},{"t":1.45,"m":1.39e14},{"t":1.6,"m":1.67e14}],
"o1": [{"t":2.19,"m":1.59e14},{"t":2.04,"m":1.37e14},{"t":1.99,"m":1.32e14},{"t":1.78,"m":1.04e14},{"t":1.74,"m":1.0e14},{"t":1.66,"m":9.2e13},{"t":1.6,"m":9.0e13},{"t":1.45,"m":7.9e13},{"t":1.4,"m":7.6e13},{"t":1.43,"m":6.8e13},{"t":1.15,"m":5.85e13},{"t":1.23,"m":5.5e13},{"t":1.25,"m":5.65e13},{"t":1.0,"m":3.8e13},{"t":0.99,"m":3.5e13},{"t":1.03,"m":3.33e13},{"t":0.96,"m":3.0e13},{"t":7.86,"m":8.0e14},{"t":4.19,"m":6.9e14},{"t":1.076,"m":7.0e13},{"t":1.19,"m":6.4e13},{"t":1.31,"m":7.3e13},{"t":1.55,"m":8.4e13},{"t":1.83,"m":1.11e14},{"t":1.95,"m":1.21e14},{"t":2.16,"m":1.46e14},{"t":1.007,"m":4.23e13},{"t":1.04,"m":3.07e13}],
"ln": [{"p":"c","z":0,"t":0.505,"m":5.08e13},{"p":"c","z":0,"t":10.95,"m":4.73e15},{"p":"c","z":0.5,"t":0.505,"m":2.86e13},{"p":"c","z":0.5,"t":10.95,"m":2.54e15},{"p":"c","z":1,"t":0.505,"m":1.91e13},{"p":"c","z":1,"t":10.95,"m":1.7e15},
{"p":"h","z":0,"t":0.505,"m":5.08e13},{"p":"h","z":0,"t":10.95,"m":5.13e15},{"p":"h","z":0.5,"t":0.505,"m":3.3e13},{"p":"h","z":0.5,"t":10.95,"m":3.6e15},{"p":"h","z":1,"t":0.505,"m":1.78e13},{"p":"h","z":1,"t":10.95,"m":2.07e15},
{"p":"o","z":0,"t":0.505,"m":4.32e13},{"p":"o","z":0,"t":10.95,"m":4.43e15},{"p":"o","z":0.5,"t":0.505,"m":2.56e13},{"p":"o","z":0.5,"t":10.95,"m":2.66e15},{"p":"o","z":1,"t":0.505,"m":1.8e13},{"p":"o","z":1,"t":10.95,"m":1.82e15}]
},
"concat": [
{
 "width": 464, "height": 564,
 "resolve": {"axis": {"x": "independent", "y": "independent"}},
 "layer": [
  {"data": {"name": "c0"}, "mark": {"type": "point", "shape": "circle", "filled": true, "color": "black", "size": 50, "opacity": 1, "clip": true},
   "encoding": {
    "x": {"field": "t", "type": "quantitative", "scale": {"type": "log", "domain": [0.505, 10.95], "nice": false}, "axis": {"orient": "bottom", "values": [0.6,0.7,0.8,0.9,1,2,3,4,5,6,7,8,9,10], "labels": false, "title": null, "tickSize": {"condition": {"test": "datum.value==1||datum.value==10", "value": -11}, "value": -6}}},
    "y": {"field": "m", "type": "quantitative", "scale": {"type": "log", "domain": [2.97e13, 5.13e15], "nice": false}, "axis": {"orient": "left", "values": [3e13,4e13,5e13,6e13,7e13,8e13,9e13,1e14,2e14,3e14,4e14,5e14,6e14,7e14,8e14,9e14,1e15,2e15,3e15,4e15], "labelExpr": "datum.value==1e14?'10¹⁴':datum.value==1e15?'10¹⁵':''", "title": "virial mass (Mₛₒₗₐᵣ)", "titleFont": "Liberation Sans", "titleY": 295, "labelPadding": 48, "titlePadding": 6, "tickSize": {"condition": {"test": "datum.value==1e14||datum.value==1e15", "value": -11}, "value": -6}}}}},
  {"data": {"name": "c5"}, "mark": {"type": "point", "shape": "square", "filled": true, "fill": "white", "stroke": "black", "strokeWidth": 1.3, "size": 64, "opacity": 1, "clip": true},
   "encoding": {"x": {"field": "t", "type": "quantitative", "scale": {"type": "log", "domain": [0.505, 10.95], "nice": false}, "axis": null}, "y": {"field": "m", "type": "quantitative", "scale": {"type": "log", "domain": [2.97e13, 5.13e15], "nice": false}, "axis": null}}},
  {"data": {"name": "c1"}, "mark": {"type": "point", "shape": "triangle-up", "filled": true, "color": "black", "size": 80, "opacity": 1, "clip": true},
   "encoding": {"x": {"field": "t", "type": "quantitative", "scale": {"type": "log", "domain": [0.505, 10.95], "nice": false}, "axis": null}, "y": {"field": "m", "type": "quantitative", "scale": {"type": "log", "domain": [2.97e13, 5.13e15], "nice": false}, "axis": null}}},
  {"data": {"name": "ln"}, "transform": [{"filter": "datum.p=='c'&&datum.z==0"}], "mark": {"type": "line", "color": "black", "strokeWidth": 1.5, "clip": true},
   "encoding": {
    "x": {"field": "t", "type": "quantitative", "scale": {"type": "log", "domain": [0.505, 10.95], "nice": false}, "axis": {"orient": "top", "values": [0.6,0.7,0.8,0.9,1,2,3,4,5,6,7,8,9,10], "labels": false, "title": null, "tickSize": {"condition": {"test": "datum.value==1||datum.value==10", "value": -11}, "value": -6}}},
    "y": {"field": "m", "type": "quantitative", "scale": {"type": "log", "domain": [2.97e13, 5.13e15], "nice": false}, "axis": {"orient": "right", "values": [3e13,4e13,5e13,6e13,7e13,8e13,9e13,1e14,2e14,3e14,4e14,5e14,6e14,7e14,8e14,9e14,1e15,2e15,3e15,4e15], "labels": false, "title": null, "tickSize": {"condition": {"test": "datum.value==1e14||datum.value==1e15", "value": -11}, "value": -6}}}}},
  {"data": {"name": "ln"}, "transform": [{"filter": "datum.p=='c'&&datum.z==0.5"}], "mark": {"type": "line", "color": "black", "strokeWidth": 1.5, "strokeDash": [10, 8], "clip": true},
   "encoding": {"x": {"field": "t", "type": "quantitative", "scale": {"type": "log", "domain": [0.505, 10.95], "nice": false}, "axis": null}, "y": {"field": "m", "type": "quantitative", "scale": {"type": "log", "domain": [2.97e13, 5.13e15], "nice": false}, "axis": null}}},
  {"data": {"name": "ln"}, "transform": [{"filter": "datum.p=='c'&&datum.z==1"}], "mark": {"type": "line", "color": "black", "strokeWidth": 1.5, "strokeDash": [20, 8], "clip": true},
   "encoding": {"x": {"field": "t", "type": "quantitative", "scale": {"type": "log", "domain": [0.505, 10.95], "nice": false}, "axis": null}, "y": {"field": "m", "type": "quantitative", "scale": {"type": "log", "domain": [2.97e13, 5.13e15], "nice": false}, "axis": null}}},
  {"data": {"values": [{}]}, "mark": {"type": "text", "text": "CDM270", "align": "left", "baseline": "middle", "fontSize": 26, "color": "#222"},
   "encoding": {"x": {"datum": 0.708, "type": "quantitative", "scale": {"type": "log", "domain": [0.505, 10.95], "nice": false}, "axis": null}, "y": {"datum": 3.13e15, "type": "quantitative", "scale": {"type": "log", "domain": [2.97e13, 5.13e15], "nice": false}, "axis": null}}}
 ]
},
{
 "width": 463, "height": 564,
 "resolve": {"axis": {"x": "independent", "y": "independent"}},
 "layer": [
  {"data": {"name": "h0"}, "mark": {"type": "point", "shape": "circle", "filled": true, "color": "black", "size": 50, "opacity": 1, "clip": true},
   "encoding": {
    "x": {"field": "t", "type": "quantitative", "scale": {"type": "log", "domain": [0.505, 10.95], "nice": false}, "axis": {"orient": "bottom", "values": [0.6,0.7,0.8,0.9,1,2,3,4,5,6,7,8,9,10], "labelExpr": "datum.value==1?'1':''", "title": "temperature (keV)", "labelPadding": 21, "titlePadding": 12, "tickSize": {"condition": {"test": "datum.value==1||datum.value==10", "value": -11}, "value": -6}}},
    "y": {"field": "m", "type": "quantitative", "scale": {"type": "log", "domain": [2.97e13, 5.13e15], "nice": false}, "axis": {"orient": "left", "values": [3e13,4e13,5e13,6e13,7e13,8e13,9e13,1e14,2e14,3e14,4e14,5e14,6e14,7e14,8e14,9e14,1e15,2e15,3e15,4e15], "labels": false, "title": null, "tickSize": {"condition": {"test": "datum.value==1e14||datum.value==1e15", "value": -11}, "value": -6}}}}},
  {"data": {"name": "h5"}, "mark": {"type": "point", "shape": "square", "filled": true, "fill": "white", "stroke": "black", "strokeWidth": 1.3, "size": 64, "opacity": 1, "clip": true},
   "encoding": {"x": {"field": "t", "type": "quantitative", "scale": {"type": "log", "domain": [0.505, 10.95], "nice": false}, "axis": null}, "y": {"field": "m", "type": "quantitative", "scale": {"type": "log", "domain": [2.97e13, 5.13e15], "nice": false}, "axis": null}}},
  {"data": {"name": "h1"}, "mark": {"type": "point", "shape": "triangle-up", "filled": true, "color": "black", "size": 80, "opacity": 1, "clip": true},
   "encoding": {"x": {"field": "t", "type": "quantitative", "scale": {"type": "log", "domain": [0.505, 10.95], "nice": false}, "axis": null}, "y": {"field": "m", "type": "quantitative", "scale": {"type": "log", "domain": [2.97e13, 5.13e15], "nice": false}, "axis": null}}},
  {"data": {"name": "ln"}, "transform": [{"filter": "datum.p=='h'&&datum.z==0"}], "mark": {"type": "line", "color": "black", "strokeWidth": 1.5, "clip": true},
   "encoding": {
    "x": {"field": "t", "type": "quantitative", "scale": {"type": "log", "domain": [0.505, 10.95], "nice": false}, "axis": {"orient": "top", "values": [0.6,0.7,0.8,0.9,1,2,3,4,5,6,7,8,9,10], "labels": false, "title": null, "tickSize": {"condition": {"test": "datum.value==1||datum.value==10", "value": -11}, "value": -6}}},
    "y": {"field": "m", "type": "quantitative", "scale": {"type": "log", "domain": [2.97e13, 5.13e15], "nice": false}, "axis": {"orient": "right", "values": [3e13,4e13,5e13,6e13,7e13,8e13,9e13,1e14,2e14,3e14,4e14,5e14,6e14,7e14,8e14,9e14,1e15,2e15,3e15,4e15], "labels": false, "title": null, "tickSize": {"condition": {"test": "datum.value==1e14||datum.value==1e15", "value": -11}, "value": -6}}}}},
  {"data": {"name": "ln"}, "transform": [{"filter": "datum.p=='h'&&datum.z==0.5"}], "mark": {"type": "line", "color": "black", "strokeWidth": 1.5, "strokeDash": [10, 8], "clip": true},
   "encoding": {"x": {"field": "t", "type": "quantitative", "scale": {"type": "log", "domain": [0.505, 10.95], "nice": false}, "axis": null}, "y": {"field": "m", "type": "quantitative", "scale": {"type": "log", "domain": [2.97e13, 5.13e15], "nice": false}, "axis": null}}},
  {"data": {"name": "ln"}, "transform": [{"filter": "datum.p=='h'&&datum.z==1"}], "mark": {"type": "line", "color": "black", "strokeWidth": 1.5, "strokeDash": [20, 8], "clip": true},
   "encoding": {"x": {"field": "t", "type": "quantitative", "scale": {"type": "log", "domain": [0.505, 10.95], "nice": false}, "axis": null}, "y": {"field": "m", "type": "quantitative", "scale": {"type": "log", "domain": [2.97e13, 5.13e15], "nice": false}, "axis": null}}},
  {"data": {"values": [{}]}, "mark": {"type": "text", "text": "CHDM512", "align": "left", "baseline": "middle", "fontSize": 26, "color": "#222"},
   "encoding": {"x": {"datum": 0.694, "type": "quantitative", "scale": {"type": "log", "domain": [0.505, 10.95], "nice": false}, "axis": null}, "y": {"datum": 3.13e15, "type": "quantitative", "scale": {"type": "log", "domain": [2.97e13, 5.13e15], "nice": false}, "axis": null}}},
  {"data": {"values": [{}]}, "mark": {"type": "rect", "color": "#f4f4f4", "clip": true},
   "encoding": {"x": {"datum": 5.43, "type": "quantitative", "scale": {"type": "log", "domain": [0.505, 10.95], "nice": false}, "axis": null}, "x2": {"datum": 10.95}, "y": {"datum": 1.72e14, "type": "quantitative", "scale": {"type": "log", "domain": [2.97e13, 5.13e15], "nice": false}, "axis": null}, "y2": {"datum": 2.97e13}}}
 ]
},
{
 "width": 464, "height": 561,
 "resolve": {"axis": {"x": "independent", "y": "independent"}},
 "layer": [
  {"data": {"name": "o0"}, "mark": {"type": "point", "shape": "circle", "filled": true, "color": "black", "size": 50, "opacity": 1, "clip": true},
   "encoding": {
    "x": {"field": "t", "type": "quantitative", "scale": {"type": "log", "domain": [0.505, 10.95], "nice": false}, "axis": {"orient": "bottom", "values": [0.6,0.7,0.8,0.9,1,2,3,4,5,6,7,8,9,10], "labelExpr": "datum.value==1?'1':datum.value==10?'10':''", "title": "temperature (keV)", "labelPadding": 25, "titlePadding": 12, "tickSize": {"condition": {"test": "datum.value==1||datum.value==10", "value": -11}, "value": -6}}},
    "y": {"field": "m", "type": "quantitative", "scale": {"type": "log", "domain": [2.99e13, 5.04e15], "nice": false}, "axis": {"orient": "left", "values": [3e13,4e13,5e13,6e13,7e13,8e13,9e13,1e14,2e14,3e14,4e14,5e14,6e14,7e14,8e14,9e14,1e15,2e15,3e15,4e15], "labelExpr": "datum.value==1e14?'10¹⁴':datum.value==1e15?'10¹⁵':''", "title": "virial mass (Mₛₒₗₐᵣ)", "titleFont": "Liberation Sans", "titleY": 300, "labelPadding": 48, "titlePadding": 6, "tickSize": {"condition": {"test": "datum.value==1e14||datum.value==1e15", "value": -11}, "value": -6}}}}},
  {"data": {"name": "o5"}, "mark": {"type": "point", "shape": "square", "filled": true, "fill": "white", "stroke": "black", "strokeWidth": 1.3, "size": 64, "opacity": 1, "clip": true},
   "encoding": {"x": {"field": "t", "type": "quantitative", "scale": {"type": "log", "domain": [0.505, 10.95], "nice": false}, "axis": null}, "y": {"field": "m", "type": "quantitative", "scale": {"type": "log", "domain": [2.99e13, 5.04e15], "nice": false}, "axis": null}}},
  {"data": {"name": "o1"}, "mark": {"type": "point", "shape": "triangle-up", "filled": true, "color": "black", "size": 80, "opacity": 1, "clip": true},
   "encoding": {"x": {"field": "t", "type": "quantitative", "scale": {"type": "log", "domain": [0.505, 10.95], "nice": false}, "axis": null}, "y": {"field": "m", "type": "quantitative", "scale": {"type": "log", "domain": [2.99e13, 5.04e15], "nice": false}, "axis": null}}},
  {"data": {"name": "ln"}, "transform": [{"filter": "datum.p=='o'&&datum.z==0"}], "mark": {"type": "line", "color": "black", "strokeWidth": 1.5, "clip": true},
   "encoding": {
    "x": {"field": "t", "type": "quantitative", "scale": {"type": "log", "domain": [0.505, 10.95], "nice": false}, "axis": {"orient": "top", "values": [0.6,0.7,0.8,0.9,1,2,3,4,5,6,7,8,9,10], "labels": false, "title": null, "tickSize": {"condition": {"test": "datum.value==1||datum.value==10", "value": -11}, "value": -6}}},
    "y": {"field": "m", "type": "quantitative", "scale": {"type": "log", "domain": [2.99e13, 5.04e15], "nice": false}, "axis": {"orient": "right", "values": [3e13,4e13,5e13,6e13,7e13,8e13,9e13,1e14,2e14,3e14,4e14,5e14,6e14,7e14,8e14,9e14,1e15,2e15,3e15,4e15], "labels": false, "title": null, "tickSize": {"condition": {"test": "datum.value==1e14||datum.value==1e15", "value": -11}, "value": -6}}}}},
  {"data": {"name": "ln"}, "transform": [{"filter": "datum.p=='o'&&datum.z==0.5"}], "mark": {"type": "line", "color": "black", "strokeWidth": 1.5, "strokeDash": [10, 8], "clip": true},
   "encoding": {"x": {"field": "t", "type": "quantitative", "scale": {"type": "log", "domain": [0.505, 10.95], "nice": false}, "axis": null}, "y": {"field": "m", "type": "quantitative", "scale": {"type": "log", "domain": [2.99e13, 5.04e15], "nice": false}, "axis": null}}},
  {"data": {"name": "ln"}, "transform": [{"filter": "datum.p=='o'&&datum.z==1"}], "mark": {"type": "line", "color": "black", "strokeWidth": 1.5, "strokeDash": [20, 8], "clip": true},
   "encoding": {"x": {"field": "t", "type": "quantitative", "scale": {"type": "log", "domain": [0.505, 10.95], "nice": false}, "axis": null}, "y": {"field": "m", "type": "quantitative", "scale": {"type": "log", "domain": [2.99e13, 5.04e15], "nice": false}, "axis": null}}},
  {"data": {"values": [{}]}, "mark": {"type": "text", "text": "OCDM256", "align": "left", "baseline": "middle", "fontSize": 26, "color": "#222"},
   "encoding": {"x": {"datum": 0.772, "type": "quantitative", "scale": {"type": "log", "domain": [0.505, 10.95], "nice": false}, "axis": null}, "y": {"datum": 3.08e15, "type": "quantitative", "scale": {"type": "log", "domain": [2.99e13, 5.04e15], "nice": false}, "axis": null}}}
 ]
},
{
 "width": 463, "height": 641,
 "layer": [
  {"data": {"values": [{"k": "a"}, {"k": "b"}, {"k": "c"}, {"k": "d"}, {"k": "e"}, {"k": "f"}]},
   "mark": {"type": "point", "size": 100, "filled": true, "strokeWidth": 1.4},
   "encoding": {
    "x": {"datum": 10, "type": "quantitative", "scale": {"type": "log", "domain": [0.505, 10.95], "nice": false}, "axis": null},
    "y": {"datum": 0.95, "type": "quantitative", "scale": {"domain": [0, 1], "reverse": true, "nice": false, "zero": false}, "axis": null},
    "shape": {"field": "k", "type": "nominal", "scale": {"domain": ["a","b","c","d","e","f"], "range": ["M-0.6,0A0.6,0.6,0,1,0,0.6,0A0.6,0.6,0,1,0,-0.6,0Z", "M-13.4,0H0.4", "M-0.8,-0.8H0.8V0.8H-0.8Z", "M-13.4,0H0.4", "M0,-0.9L0.85,0.7L-0.85,0.7Z", "M-13.4,0H0.4"]},
      "legend": {"orient": "none", "legendX": 628, "legendY": 749, "title": null, "padding": 0, "labelFontSize": 24, "labelColor": "#222", "labelFont": "DejaVu Sans", "labelOffset": 2, "rowPadding": 10.3, "symbolSize": 100, "symbolStrokeColor": "black", "symbolStrokeWidth": 1.4, "symbolOpacity": 1, "labelExpr": "datum.value=='a'||datum.value=='b'?'z=0.0':datum.value=='c'||datum.value=='d'?'z=0.5 (0.3)':'z=1.0'"}},
    "fill": {"field": "k", "type": "nominal", "scale": {"domain": ["a","b","c","d","e","f"], "range": ["black", "transparent", "white", "transparent", "black", "transparent"]},
      "legend": {"orient": "none", "legendX": 628, "legendY": 749, "title": null, "padding": 0, "labelFontSize": 24, "labelColor": "#222", "labelFont": "DejaVu Sans", "labelOffset": 2, "rowPadding": 10.3, "symbolSize": 100, "symbolStrokeColor": "black", "symbolStrokeWidth": 1.4, "symbolOpacity": 1, "labelExpr": "datum.value=='a'||datum.value=='b'?'z=0.0':datum.value=='c'||datum.value=='d'?'z=0.5 (0.3)':'z=1.0'"}},
    "stroke": {"field": "k", "type": "nominal", "scale": {"domain": ["a","b","c","d","e","f"], "range": ["black", "black", "black", "black", "black", "black"]},
      "legend": {"orient": "none", "legendX": 628, "legendY": 749, "title": null, "padding": 0, "labelFontSize": 24, "labelColor": "#222", "labelFont": "DejaVu Sans", "labelOffset": 2, "rowPadding": 10.3, "symbolSize": 100, "symbolStrokeColor": "black", "symbolStrokeWidth": 1.4, "symbolOpacity": 1, "labelExpr": "datum.value=='a'||datum.value=='b'?'z=0.0':datum.value=='c'||datum.value=='d'?'z=0.5 (0.3)':'z=1.0'"}},
    "strokeDash": {"field": "k", "type": "nominal", "scale": {"domain": ["a","b","c","d","e","f"], "range": [[1,0],[1,0],[1,0],[9,8],[1,0],[20,6]]},
      "legend": {"orient": "none", "legendX": 628, "legendY": 749, "title": null, "padding": 0, "labelFontSize": 24, "labelColor": "#222", "labelFont": "DejaVu Sans", "labelOffset": 2, "rowPadding": 10.3, "symbolSize": 100, "symbolStrokeColor": "black", "symbolStrokeWidth": 1.4, "symbolOpacity": 1, "labelExpr": "datum.value=='a'||datum.value=='b'?'z=0.0':datum.value=='c'||datum.value=='d'?'z=0.5 (0.3)':'z=1.0'"}}
   }},
  {"data": {"values": [{}]}, "mark": {"type": "rect", "color": "#f4f4f4"},
   "encoding": {"x": {"datum": 5.43, "type": "quantitative", "scale": {"type": "log", "domain": [0.505, 10.95], "nice": false}, "axis": null}, "x2": {"datum": 10.95}}},
  {"data": {"values": [{}]}, "mark": {"type": "text", "text": "log(\u00a0 h(z)\u00a0 M₅₀₀\u00a0 )\u00a0 [M⊙]", "angle": 270, "align": "center", "baseline": "middle", "font": "DejaVu Serif", "fontSize": 35, "color": "black"},
   "encoding": {"x": {"datum": 6.5, "type": "quantitative", "scale": {"type": "log", "domain": [0.505, 10.95], "nice": false}, "axis": null}, "y": {"datum": 0.328, "type": "quantitative", "scale": {"domain": [0, 1], "reverse": true, "nice": false, "zero": false}, "axis": null}}},
  {"data": {"values": [{}]}, "mark": {"type": "text", "text": "10", "align": "left", "baseline": "middle", "font": "DejaVu Serif", "fontSize": 28, "color": "black", "clip": true},
   "encoding": {"x": {"datum": 9.87, "type": "quantitative", "scale": {"type": "log", "domain": [0.505, 10.95], "nice": false}, "axis": null}, "y": {"datum": 0.115, "type": "quantitative", "scale": {"domain": [0, 1], "reverse": true, "nice": false, "zero": false}, "axis": null}}},
  {"data": {"values": [{}]}, "mark": {"type": "text", "text": "10", "align": "left", "baseline": "middle", "font": "DejaVu Serif", "fontSize": 28, "color": "black", "clip": true},
   "encoding": {"x": {"datum": 9.87, "type": "quantitative", "scale": {"type": "log", "domain": [0.505, 10.95], "nice": false}, "axis": null}, "y": {"datum": 0.785, "type": "quantitative", "scale": {"domain": [0, 1], "reverse": true, "nice": false, "zero": false}, "axis": null}}},
  {"data": {"values": [{}]}, "mark": {"type": "text", "text": "Bryan & Norman `98", "align": "left", "baseline": "alphabetic", "font": "Liberation Sans", "fontSize": 39, "color": "#444"},
   "encoding": {"x": {"datum": 0.592, "type": "quantitative", "scale": {"type": "log", "domain": [0.505, 10.95], "nice": false}, "axis": null}, "y": {"datum": 0.811, "type": "quantitative", "scale": {"domain": [0, 1], "reverse": true, "nice": false, "zero": false}, "axis": null}}}
 ]
}
]
}
